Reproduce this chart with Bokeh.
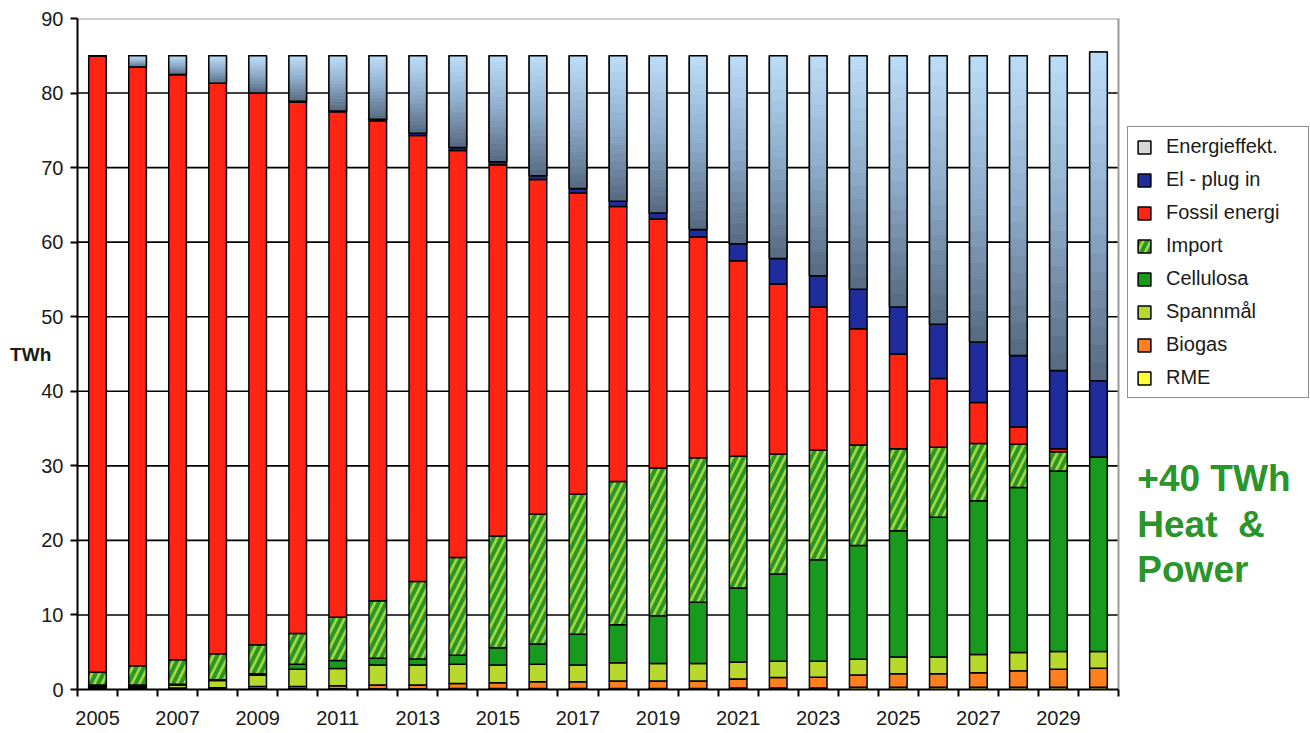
import numpy as np
from bokeh.plotting import figure
from bokeh.models import ColumnDataSource, Range1d, FixedTicker, Legend, LegendItem, Label
from bokeh.embed import file_html
from bokeh.resources import INLINE

# ---------------- data (TWh) ----------------
years = list(range(2005, 2031))
rme = [0.1, 0.1, 0.1, 0.1, 0.1, 0.1, 0.1, 0.1, 0.1, 0.15, 0.15, 0.15, 0.15, 0.15,
       0.15, 0.15, 0.2, 0.2, 0.2, 0.3, 0.3, 0.3, 0.3, 0.3, 0.3, 0.3]
biogas = [0.1, 0.1, 0.1, 0.15, 0.3, 0.3, 0.4, 0.5, 0.5, 0.65, 0.75, 0.9, 0.9, 1.0,
          1.0, 1.0, 1.2, 1.4, 1.45, 1.65, 1.8, 1.8, 1.95, 2.2, 2.4, 2.55]
spannmal = [0.2, 0.2, 0.4, 0.95, 1.5, 2.3, 2.3, 2.7, 2.7, 2.6, 2.4, 2.35, 2.25, 2.45,
            2.35, 2.35, 2.3, 2.2, 2.15, 2.1, 2.25, 2.25, 2.45, 2.45, 2.4, 2.25]
cellulosa = [0.2, 0.2, 0.1, 0.1, 0.2, 0.7, 1.1, 0.9, 0.8, 1.2, 2.3, 2.7, 4.1, 5.1,
             6.4, 8.2, 9.9, 11.7, 13.6, 15.25, 16.95, 18.75, 20.6, 22.15, 24.2, 26.1]
imports = [1.7, 2.6, 3.3, 3.5, 3.9, 4.1, 5.8, 7.7, 10.4, 13.1, 15.0, 17.4, 18.8, 19.2,
           19.8, 19.4, 17.7, 16.1, 14.7, 13.5, 11.0, 9.4, 7.7, 5.8, 2.6, 0.0]
fossil = [82.7, 80.3, 78.5, 76.5, 74.0, 71.3, 67.8, 64.4, 59.8, 54.6, 49.8, 44.9, 40.4,
          36.9, 33.4, 29.6, 26.2, 22.8, 19.2, 15.6, 12.7, 9.2, 5.5, 2.3, 0.4, 0.0]
el_plugin = [0.0, 0.0, 0.0, 0.0, 0.0, 0.1, 0.1, 0.2, 0.3, 0.4, 0.4, 0.5, 0.6, 0.7,
             0.8, 1.0, 2.3, 3.4, 4.2, 5.3, 6.3, 7.3, 8.1, 9.6, 10.5, 10.2]
energieffekt = [0.0, 1.5, 2.5, 3.7, 5.0, 6.1, 7.4, 8.5, 10.4, 12.3, 14.2, 16.1, 17.8,
                19.5, 21.1, 23.3, 25.2, 27.2, 29.5, 31.3, 33.7, 36.0, 38.4, 40.2, 42.2, 44.1]

series_names = ["RME", "Biogas", "Spannmål", "Cellulosa", "Import",
                "Fossil energi", "El - plug in", "Energieffekt."]
x_tick_years = years[::2]
y_ticks = [0, 10, 20, 30, 40, 50, 60, 70, 80, 90]
y_label = "TWh"
note_lines = ["+40 TWh", "Heat\u00a0\u00a0&", "Power"]
note_y = [28.3, 22.1, 16.05]

# ---------------- styles ----------------
FONT = "Liberation Sans"
colors = {"RME": "#FFFF33", "Biogas": "#FF7F1F", "Spannmål": "#B6D92B",
          "Cellulosa": "#189A1E", "Import": "#A4D93A", "Fossil energi": "#FF2512",
          "El - plug in": "#1E2C9E"}
BW = 0.44
W, H = 1310, 733
LEFT, TOP, BOTTOM = 77, 18, 44
x_lo, x_hi = years[0] - 0.5, years[-1] + 0.5
px_per_year = 1041.0 / len(years)
x_end = x_lo + (W - LEFT) / px_per_year

p = figure(width=W, height=H, x_range=Range1d(x_lo, x_end),
           y_range=Range1d(y_ticks[0], y_ticks[-1]), output_backend="svg",
           toolbar_location=None, min_border_left=LEFT, min_border_right=0,
           min_border_top=TOP, min_border_bottom=BOTTOM,
           background_fill_color="white", border_fill_color="white")
p.outline_line_color = None
p.xgrid.visible = False
p.ygrid.visible = False

# gridlines and plot-area border limited to the category span
grid_vals = y_ticks[1:-1]
p.segment(x0=[x_lo] * len(grid_vals), y0=grid_vals, x1=[x_hi] * len(grid_vals),
          y1=grid_vals, line_color="black", line_width=1.6)
p.line(x=[x_lo, x_hi, x_hi], y=[y_ticks[-1], y_ticks[-1], y_ticks[0]],
       line_color="#9A9A9A", line_width=2)

# axes
p.yaxis.ticker = FixedTicker(ticks=y_ticks)
p.yaxis.axis_line_width = 2
p.yaxis.axis_line_color = "black"
p.yaxis.major_tick_out = 7
p.yaxis.major_tick_in = 0
p.yaxis.major_tick_line_width = 2
p.yaxis.minor_tick_line_color = None
p.yaxis.major_label_standoff = 7
p.yaxis.major_label_text_font = FONT
p.yaxis.major_label_text_font_size = "20px"
p.yaxis.major_label_text_color = "#1a1a1a"
p.yaxis.axis_label = y_label
p.yaxis.axis_label_orientation = "horizontal"
p.yaxis.axis_label_text_font = FONT
p.yaxis.axis_label_text_font_size = "19px"
p.yaxis.axis_label_text_font_style = "bold"
p.yaxis.axis_label_text_color = "#1a1a1a"
p.yaxis.axis_label_standoff = -13

p.xaxis.bounds = (x_lo, x_hi)
p.xaxis.ticker = FixedTicker(ticks=x_tick_years,
                             minor_ticks=[y - 0.5 for y in years] + [x_hi])
p.xaxis.axis_line_width = 2
p.xaxis.axis_line_color = "black"
p.xaxis.major_tick_line_color = None
p.xaxis.major_tick_out = 0
p.xaxis.major_tick_in = 0
p.xaxis.minor_tick_line_color = "black"
p.xaxis.minor_tick_line_width = 2
p.xaxis.minor_tick_out = 7
p.xaxis.minor_tick_in = 0
p.xaxis.major_label_standoff = 14
p.xaxis.major_label_text_font = FONT
p.xaxis.major_label_text_font_size = "20px"
p.xaxis.major_label_text_color = "#1a1a1a"

# ---------------- stacked bars ----------------
stack = [("RME", rme), ("Biogas", biogas), ("Spannmål", spannmal),
         ("Cellulosa", cellulosa), ("Import", imports),
         ("Fossil energi", fossil), ("El - plug in", el_plugin)]
renderers = {}
bottom = np.zeros(len(years))
for name, vals in stack:
    top = bottom + np.array(vals)
    src = ColumnDataSource(dict(x=years, bottom=bottom.copy(), top=top))
    kw = dict(fill_color=colors[name], line_color="black", line_width=1.5)
    if name == "Import":
        kw.update(hatch_pattern="/", hatch_color="#2A962A", hatch_weight=4,
                  hatch_scale=15)
    renderers[name] = p.vbar(x="x", bottom="bottom", top="top", width=BW, source=src, **kw)
    bottom = top

# Energieffekt: gradient (light blue at top, slate at bottom)
eff = np.array(energieffekt)
eff_src = ColumnDataSource(dict(x=years, bottom=bottom.copy(), top=bottom + eff))
renderers["Energieffekt."] = p.vbar(x="x", bottom="bottom", top="top", width=BW,
                                     source=eff_src, fill_color="#D6D6D6",
                                     line_color="black", line_width=1.5)
N = 18
stops_pos = [0.0, 0.5, 1.0]
stops_rgb = np.array([[0x55, 0x69, 0x7F], [0x8E, 0xAC, 0xCB], [0xBD, 0xDE, 0xF8]])
bx, bb, bt, bc = [], [], [], []
for i, yr in enumerate(years):
    if eff[i] <= 0:
        continue
    for k in range(N):
        f = (k + 0.5) / N
        rgb = [int(round(np.interp(f, stops_pos, stops_rgb[:, c]))) for c in range(3)]
        bx.append(yr)
        bb.append(bottom[i] + eff[i] * k / N)
        bt.append(bottom[i] + eff[i] * (k + 1) / N)
        bc.append("#%02X%02X%02X" % tuple(rgb))
band_src = ColumnDataSource(dict(x=bx, bottom=bb, top=bt, c=bc))
p.vbar(x="x", bottom="bottom", top="top", width=BW, source=band_src,
       fill_color="c", line_color="c", line_width=0.8)
p.vbar(x="x", bottom="bottom", top="top", width=BW, source=eff_src,
       fill_color=None, line_color="black", line_width=1.5)

# ---------------- legend ----------------
items = [LegendItem(label=n, renderers=[renderers[n]]) for n in reversed(series_names)]
legend = Legend(items=items, location=(1050, 291), orientation="vertical",
                label_text_font=FONT, label_text_font_size="20px",
                label_text_color="#1a1a1a", glyph_width=16, glyph_height=16,
                label_height=20, label_width=134, spacing=10, padding=8,
                label_standoff=14, margin=0, border_line_color="#222222",
                border_line_width=1.5, background_fill_color="white",
                background_fill_alpha=1.0)
p.add_layout(legend, "center")

# ---------------- note ----------------
for line, yv in zip(note_lines, note_y):
    p.add_layout(Label(x=years[-1] + 0.97, y=yv, text=line, text_align="left",
                       text_baseline="middle", text_font=FONT, text_font_size="37px",
                       text_font_style="bold", text_color="#2A952A"))

open("out.html", "w").write(file_html(p, INLINE))
